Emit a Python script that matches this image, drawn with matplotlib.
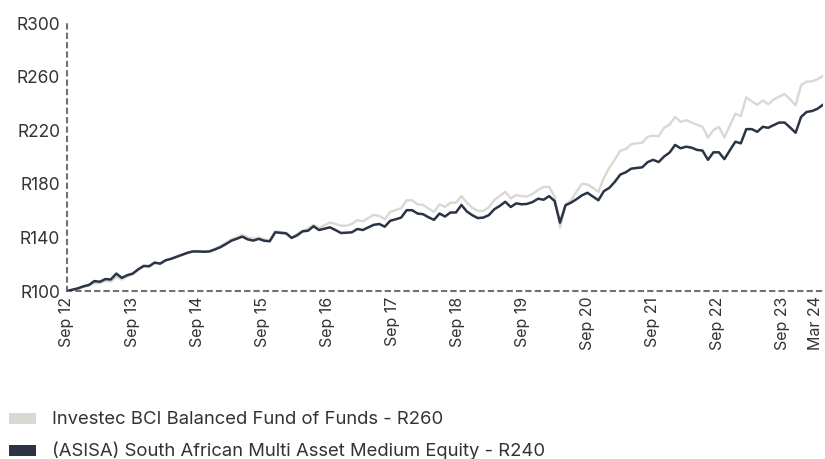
import matplotlib
matplotlib.use("Agg")
import matplotlib.pyplot as plt
from matplotlib.patches import Rectangle

plt.rcParams['font.family'] = ['Inter', 'DejaVu Sans']

series_names = ["Investec BCI Balanced Fund of Funds - R260",
                "(ASISA) South African Multi Asset Medium Equity - R240"]
colors = ["#d9d8d3", "#2b3447"]

tick_labels = ["Sep 12", "Sep 13", "Sep 14", "Sep 15", "Sep 16", "Sep 17", "Sep 18",
               "Sep 19", "Sep 20", "Sep 21", "Sep 22", "Sep 23", "Mar 24"]
tick_months = [0, 12, 24, 36, 48, 60, 72, 84, 96, 108, 120, 132, 138]

y_ticks = [100, 140, 180, 220, 260, 300]
y_labels = ["R100", "R140", "R180", "R220", "R260", "R300"]

fund = [100, 100.5, 101.5, 103, 104, 106, 105.8, 107.5, 107, 110.5, 108.5, 111,
        112.5, 115.5, 118.5, 118, 121, 120.5, 123, 124.2, 125.7, 127.2, 128.8, 129.8,
        129.8, 129.5, 129.8, 131.5, 133.5, 136, 138.5, 140, 141.8, 140, 139, 140,
        138.5, 137.8, 144.5, 144.2, 143.5, 140, 142.5, 145, 146.5, 149.4, 147, 149,
        151.2, 150, 148.7, 148.7, 150, 152.9, 152, 154.5, 156.8, 156, 153.6, 159,
        160.5, 161.8, 167.7, 167.7, 164.7, 164.2, 161.5, 159, 164.7, 162.7, 165.9, 165.9,
        170.8, 165.9, 162, 159.8, 159.8, 162.5, 167.9, 171, 174, 169.1, 171.6, 170.8,
        170.5, 172.5, 175.5, 177.7, 177.7, 170.8, 147.5, 164.7, 167.7, 174, 180, 179.5,
        177, 174, 184.4, 192, 198, 204.6, 206, 209.5, 210.2, 210.7, 215.1, 215.9,
        215.5, 221.8, 224.2, 229.9, 226.2, 227.5, 225.8, 224.2, 222.5, 214.4, 220.1, 222.5,
        214.6, 223.5, 232.3, 230.6, 244.6, 241.5, 239, 242.2, 239.3, 242.9, 245, 247.1,
        243, 238.5, 253.7, 256.2, 256.5, 258, 260.5]

sector = [100, 101, 102, 103.5, 104.5, 107.4, 106.9, 108.9, 108.6, 113, 109.8, 111.8,
          113, 116.2, 118.7, 118.5, 121.2, 120.4, 122.9, 124, 125.5, 127, 128.5, 129.5,
          129.5, 129.3, 129.5, 131, 132.7, 135, 137.5, 139, 140.6, 138.5, 137.6, 138.9,
          137.5, 137.1, 143.8, 143.4, 143, 139.6, 141.5, 144.5, 145, 148.3, 145.5, 146.5,
          147.5, 145.5, 143.3, 143.5, 143.8, 146.3, 145.5, 147.5, 149.4, 150, 148, 152.4,
          153.5, 154.8, 160.3, 160.3, 157.8, 157.3, 155, 153.1, 157.8, 155.6, 158.6, 158.6,
          164.2, 159.3, 156.5, 154.4, 154.8, 156.6, 161, 163.5, 166.6, 162.7, 165.4, 164.7,
          165, 166.4, 168.9, 168.1, 170.8, 167.2, 151, 164, 165.9, 168.5, 171.4, 173.3,
          170.5, 167.7, 174.5, 177, 181.5, 186.9, 188.6, 191.3, 191.8, 192.3, 196.2, 197.9,
          196.2, 200.4, 203.3, 209, 206.5, 207.7, 207, 205.3, 204.8, 197.9, 203.5, 203.5,
          198.4, 205, 211.4, 210.2, 220.8, 220.8, 218.8, 222.5, 221.8, 223.8, 225.7, 225.7,
          222, 218.1, 229.9, 233.6, 234.3, 236, 239]

W, H = 825, 459
fig = plt.figure(figsize=(W / 100, H / 100), dpi=100)
ax = fig.add_axes([67 / W, 1 - 291 / H, (823 - 67) / W, (291 - 23) / H])

n = len(fund)
months = list(range(n))
ax.plot(months, fund, color=colors[0], lw=1.7, zorder=2)
ax.plot(months, sector, color=colors[1], lw=1.8, zorder=3)

ax.set_xlim(0, n - 1)
ax.set_ylim(100, 300)

# tick labels sit on a slightly tighter month spacing than the data in the reference
tick_scale = (815 - 67) / (823 - 67)
ax.set_yticks(y_ticks)
ax.set_yticklabels(y_labels, fontsize=12.5, color="#333333")
ax.set_xticks([m * tick_scale for m in tick_months])
ax.set_xticklabels(tick_labels, rotation=90, fontsize=11.5, color="#333333",
                   va='top', ha='center')
ax.tick_params(axis='both', length=0)
ax.tick_params(axis='y', pad=5)
ax.tick_params(axis='x', pad=4)

for s in ['top', 'right']:
    ax.spines[s].set_visible(False)
for s in ['left', 'bottom']:
    ax.spines[s].set_linestyle((0, (2, 2.5)))
    ax.spines[s].set_color("#707070")
    ax.spines[s].set_linewidth(1.5)

# legend
leg_y = [419, 451]
for name, c, yy in zip(series_names, colors, leg_y):
    fig.patches.append(Rectangle((9 / W, 1 - (yy + 5) / H), 27 / W, 11 / H,
                                 transform=fig.transFigure, facecolor=c,
                                 edgecolor='none'))
    fig.text(52 / W, 1 - yy / H, name, fontsize=13.3, color="#333333",
             va='center', ha='left')

fig.savefig("out.png", dpi=100)
